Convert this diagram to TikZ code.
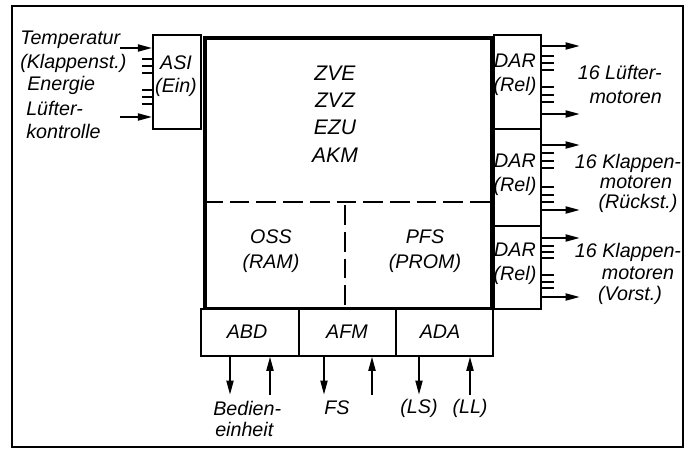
\documentclass[tikz,border=0pt]{standalone}
\usepackage{fontspec}
\setmainfont{Liberation Sans}
\usetikzlibrary{arrows.meta, positioning, calc}

\begin{document}
\begin{tikzpicture}[
    x=0.025cm, y=-0.025cm,
    every node/.style={font=\itshape\fontsize{14}{16}\selectfont, inner sep=0pt},
    unit/.style={draw, line width=1.2pt, anchor=north west},
    sig/.style={-{Triangle[length=10pt,width=5pt]}, line width=1.3pt},
    tick/.style={line width=1.2pt},
    part/.style={line width=1.1pt, dash pattern=on 14pt off 5pt}
]
\useasboundingbox (0,0) rectangle (690,451);

% Rahmen
\draw[line width=1.4pt] (12,6) rectangle (683,447);

% Baugruppen
\node[unit, minimum width=1.2cm, minimum height=2.35cm] (asi) at (152,34) {};
\node[unit, line width=2.2pt, minimum width=7.175cm, minimum height=6.775cm] (cpu) at (203,36) {};
\node[unit, minimum width=1.175cm, minimum height=2.35cm] (dar1) at (493,34) {};
\node[unit, minimum width=1.175cm, minimum height=2.425cm] (dar2) at (493,128) {};
\node[unit, minimum width=1.175cm, minimum height=2.075cm] (dar3) at (493,225) {};
\node[unit, minimum width=2.45cm, minimum height=1.175cm] (abd) at (200,308) {};
\node[unit, minimum width=2.425cm, minimum height=1.175cm] (afm) at (298,308) {};
\node[unit, minimum width=2.425cm, minimum height=1.175cm] (ada) at (395,308) {};
\draw[thin] ($(cpu.north west)+(3,3)$) rectangle ($(cpu.south east)+(-3,-3)$);

% Speicherbereich
\draw[part] (cpu.west |- 0,202) -- (cpu.east |- 0,202);
\draw[part] (cpu.south -| 345,0) ++(0,-105) -- (cpu.south -| 345,0);

% Beschriftung der Baugruppen
\node[align=center, font=\itshape\fontsize{14}{16.5}\selectfont] (asit) at (176,76) {ASI\\(Ein)};
\node[align=center, font=\itshape\fontsize{15}{19.5}\selectfont] (cput) at (335,114) {ZVE\\ZVZ\\EZU\\AKM};
\node[align=center, font=\itshape\fontsize{14}{18}\selectfont] (oss) at (271,251) {OSS\\(RAM)};
\node[align=center, font=\itshape\fontsize{14}{18}\selectfont] (pfs) at (425,251) {PFS\\(PROM)};
\node[align=center, font=\itshape\fontsize{14}{17}\selectfont] (dar1t) at (515,75) {DAR\\(Rel)};
\node[align=center, font=\itshape\fontsize{14}{17}\selectfont] (dar2t) at (515,175) {DAR\\(Rel)};
\node[align=center, font=\itshape\fontsize{14}{17}\selectfont] (dar3t) at (515,264) {DAR\\(Rel)};
\node (abdt) at (247,332) {ABD};
\node (afmt) at (347,332) {AFM};
\node (adat) at (440,332) {ADA};

% Eingaenge ASI
\draw[sig] (120,48) -- (asi.west |- 0,48);
\draw[sig] (120,117) -- (asi.west |- 0,117);
\foreach \ty in {59,66,73,90,97,104}
    \draw[tick] (asi.west |- 0,\ty) -- ++(-10,0);

% Ausgaenge DAR
\foreach \dar/\ya/\yb in {dar1/46/114, dar2/145/210, dar3/238/297} {
    \draw[sig] (\dar.east |- 0,\ya) -- ++(38,0);
    \draw[sig] (\dar.east |- 0,\yb) -- ++(38,0);
}
\foreach \ty in {56,63,70,87,95,102, 153,161,168,187,195,202, 246,252,258,275,282,288}
    \draw[tick] (dar1.east |- 0,\ty) -- ++(12,0);

% Bedienung und Anzeige
\foreach \bg/\xd/\xu in {abd/230/270, afm/324/372, ada/419/470} {
    \draw[sig] (\bg.south -| \xd,0) -- ++(0,38);
    \draw[sig] (\bg.south -| \xu,0) ++(0,38) -- (\bg.south -| \xu,0);
}

% Signale links
\node[anchor=west] (temp) at (20,40) {Temperatur};
\node[anchor=west] (klap) at (20,63) {(Klappenst.)};
\node[anchor=west] (ener) at (27,85) {Energie};
\node[anchor=west] (luef) at (26,108) {Lüfter-};
\node[anchor=west] (kont) at (26,131) {kontrolle};

% Signale rechts
\node[anchor=east] (m1a) at (662,72) {16 Lüfter-};
\node[anchor=east] (m1b) at (662,97) {motoren};
\node (m2a) at (628,163) {16 Klappen-};
\node (m2b) at (636,182) {motoren};
\node (m2c) at (638,203) {(Rückst.)};
\node (m3a) at (628,252) {16 Klappen-};
\node (m3b) at (638,273) {motoren};
\node (m3c) at (630,295) {(Vorst.)};

% Signale unten
\node[anchor=west] (bed) at (213,408) {Bedien-};
\node[anchor=west] (ein) at (215,429) {einheit};
\node (fs) at (337,408) {FS};
\node (ls) at (419,408) {(LS)};
\node (ll) at (470,408) {(LL)};

\end{tikzpicture}
\end{document}
